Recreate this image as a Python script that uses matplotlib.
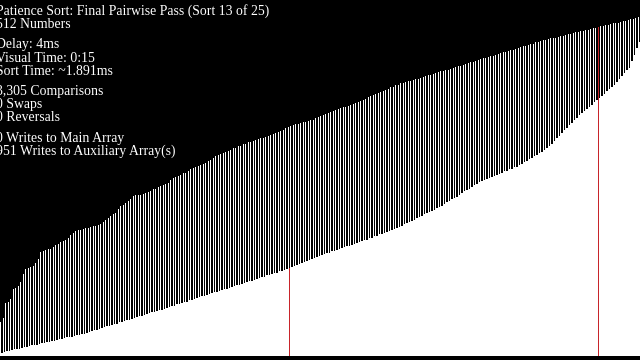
import numpy as np
import matplotlib
matplotlib.use('Agg')
import matplotlib.pyplot as plt

# bar values read off the frame, scale 1..512
# even slots = top run, odd slots = bottom run
top_run = [51, 57, 80, 82, 86, 101, 103, 106, 112, 124,
           131, 133, 134, 136, 141, 146, 157, 159, 160, 162,
           162, 165, 168, 170, 172, 174, 176, 178, 183, 186,
           189, 190, 191, 192, 193, 194, 195, 196, 197, 198,
           200, 203, 206, 208, 211, 215, 216, 222, 227, 228,
           231, 234, 238, 242, 243, 243, 243, 245, 247, 248,
           250, 252, 253, 256, 257, 258, 260, 262, 266, 269,
           271, 272, 274, 276, 277, 279, 282, 284, 286, 287,
           288, 290, 292, 294, 296, 299, 302, 304, 305, 307,
           308, 310, 312, 314, 315, 317, 318, 320, 321, 323,
           324, 325, 326, 328, 329, 330, 331, 333, 334, 336,
           337, 338, 340, 342, 344, 346, 347, 349, 350, 351,
           352, 353, 354, 355, 356, 357, 359, 361, 362, 364,
           366, 367, 369, 370, 372, 374, 375, 376, 377, 378,
           379, 381, 382, 384, 385, 387, 389, 391, 393, 394,
           396, 397, 399, 401, 402, 404, 406, 407, 409, 410,
           412, 413, 414, 415, 416, 417, 418, 419, 420, 421,
           423, 424, 425, 426, 428, 429, 430, 431, 432, 433,
           434, 436, 437, 438, 439, 440, 441, 443, 444, 445,
           446, 447, 449, 450, 451, 452, 453, 454, 455, 456,
           458, 459, 460, 461, 462, 463, 464, 466, 467, 468,
           469, 470, 471, 472, 474, 475, 476, 477, 478, 479,
           480, 481, 481, 482, 483, 484, 485, 486, 487, 488,
           489, 490, 491, 491, 492, 493, 494, 495, 496, 497,
           498, 499, 500, 501, 502, 503, 503, 504, 505, 506,
           507, 508, 509, 510, 511, 512]

bottom_run = [5, 6, 7, 8, 9, 10, 11, 11, 12, 13,
              14, 15, 16, 16, 17, 18, 19, 20, 21, 21,
              22, 23, 24, 25, 26, 27, 28, 29, 29, 30,
              31, 32, 33, 34, 35, 37, 38, 39, 40, 41,
              42, 44, 45, 46, 47, 48, 49, 51, 52, 53,
              54, 55, 56, 58, 59, 60, 61, 62, 63, 65,
              66, 67, 68, 69, 70, 71, 73, 74, 75, 76,
              78, 79, 80, 81, 82, 84, 85, 86, 87, 89,
              90, 91, 92, 93, 95, 96, 97, 98, 100, 101,
              102, 103, 104, 106, 107, 108, 109, 111, 112, 113,
              114, 115, 117, 118, 119, 120, 122, 123, 124, 125,
              126, 128, 129, 130, 131, 133, 134, 136, 137, 139,
              140, 142, 143, 145, 146, 148, 149, 151, 152, 154,
              155, 156, 158, 159, 160, 162, 163, 164, 166, 167,
              168, 170, 171, 172, 174, 175, 176, 178, 179, 181,
              182, 184, 185, 186, 188, 189, 191, 192, 194, 195,
              197, 199, 201, 202, 204, 206, 208, 210, 212, 214,
              216, 217, 219, 221, 223, 225, 227, 230, 232, 234,
              237, 239, 241, 244, 246, 249, 251, 253, 256, 258,
              260, 263, 264, 266, 268, 269, 271, 272, 274, 275,
              277, 279, 280, 282, 283, 285, 286, 288, 290, 293,
              295, 297, 300, 302, 304, 307, 309, 311, 314, 318,
              321, 325, 329, 333, 337, 341, 345, 349, 352, 356,
              360, 364, 367, 370, 374, 377, 380, 384, 387, 390,
              393, 396, 400, 403, 406, 410, 414, 419, 423, 427,
              432, 436, 446, 455, 465, 474]

# bars currently highlighted by the visualiser
marked = [231, 478]

stats = ['Patience Sort: Final Pairwise Pass (Sort 13 of 25)',
         '512 Numbers',
         '',
         'Delay: 4ms',
         'Visual Time: 0:15',
         'Sort Time: ~1.891ms',
         '',
         '3,305 Comparisons',
         '0 Swaps',
         '0 Reversals',
         '',
         '0 Writes to Main Array',
         '951 Writes to Auxiliary Array(s)']

# interleave the two runs into one array
arr = np.empty(len(top_run) + len(bottom_run))
arr[0::2] = top_run
arr[1::2] = bottom_run
idx = np.arange(len(arr))

cols = ['white'] * len(arr)
for m in marked:
    cols[m] = '#c8242a'

fig = plt.figure(figsize=(6.4, 3.6), dpi=100)
fig.patch.set_facecolor('black')
ax = fig.add_axes([0, 4/360, 1, 352/360])
ax.set_facecolor('black')
ax.bar(idx, arr, width=1, align='edge', color=cols, linewidth=0)
# redraw the marked ones a bit wider so they don't vanish in antialiasing
ax.bar(idx[marked], arr[marked], width=1.3, align='edge', color='#c8242a', linewidth=0)
ax.set_xlim(0, len(arr))
ax.set_ylim(0, 532)
ax.set_axis_off()

# text block top left, baselines in pixels
y = 15
for line in stats:
    if line == '':
        y += 7
        continue
    fig.text(-4/640, 1 - y/360, line, color='white', fontsize=9.9,
             family='Liberation Serif', va='baseline', ha='left')
    y += 13.2

plt.savefig('out.png', dpi=100, facecolor='black')
